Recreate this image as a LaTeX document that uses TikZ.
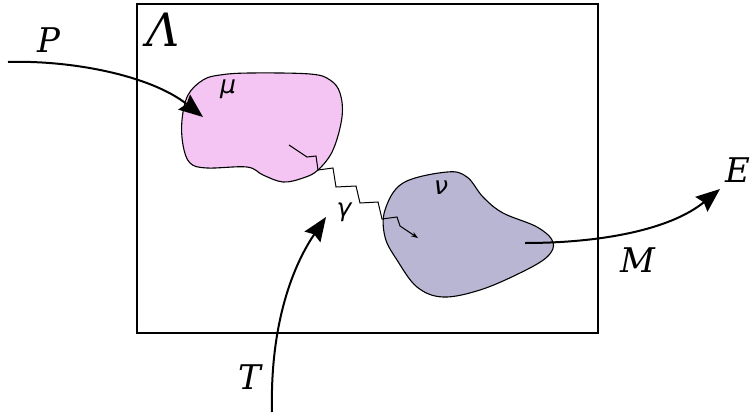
\documentclass[tikz,border=0pt]{standalone}
\usepackage{fontspec}
\setmainfont{DejaVu Serif}
\setsansfont{DejaVu Sans}
\usepackage{tikz}
\usetikzlibrary{positioning,calc}
\usetikzlibrary{arrows.meta}
\definecolor{BlobPink}{RGB}{244,196,242}
\definecolor{BlobLilac}{RGB}{184,182,211}
\tikzset{
	region/.style={draw=black,line width=1.1pt},
	flow/.style={draw=black,line width=2pt,-{Stealth[length=24pt,width=19pt,inset=3pt]}},
	photon/.style={draw=black,line width=1pt,line join=miter},
	lbl/.style={inner sep=0pt,font=\itshape\fontsize{34}{34}\selectfont},
	glbl/.style={inner sep=0pt,font=\sffamily\slshape\fontsize{25}{25}\selectfont},
}
\begin{document}
\begin{tikzpicture}[x=1pt,y=-1pt]
			\useasboundingbox (0,0) rectangle (750,415);
			% box
			\draw[line width=2pt] (137,4) rectangle (598,333);
			\node[lbl,font=\itshape\fontsize{46}{46}\selectfont] (lam) at (163,30) {Λ};
			% the two regions
			\draw[region,fill=BlobPink] plot[smooth cycle,tension=0.6] coordinates {
				(220,75) (250,73) (310,74) (330,80) (340,93) (342,117) (333,150) (318,170)
				(303,178) (283,182) (263,175) (247,167) (207,168) (190,163) (183,145)
				(182,120) (188,95) (203,80)};
			\draw[region,fill=BlobLilac] plot[smooth cycle,tension=0.6] coordinates {
				(447,172) (467,177) (483,197) (503,213) (537,227) (553,242) (547,257)
				(520,273) (480,290) (443,297) (417,287) (397,260) (385,237) (385,210)
				(403,183)};
			\node[glbl] (mu) at (228,89) {μ};
			\node[glbl] (nu) at (441,188) {ν};
			\node[glbl] (gam) at (344,212) {γ};
			% photon between regions
			\coordinate (gin) at (289,145);
			\coordinate (gout) at (418,238);
			\draw[photon,-{Stealth[length=7pt,width=5pt]}] (gin) -- (307,157) -- (316,156) -- (318,170)
				-- (333,168) -- (336,187) -- (356,186) -- (360,203) -- (378,202) -- (382,219)
				-- (397,217) -- (400,226) -- (gout);
			% incoming and outgoing flows
			\coordinate (Pin) at (8,62);
			\coordinate (Pout) at (203,117);
			\coordinate (Tin) at (272,412);
			\coordinate (Tout) at (326,217);
			\coordinate (Min) at (525,243);
			\coordinate (Mout) at (720,189);
			\draw[flow] (Pin) .. controls (70,60) and (150,75) .. (Pout);
			\draw[flow] (Tin) .. controls (270,330) and (290,270) .. (Tout);
			\draw[flow] (Min) .. controls (600,243) and (670,230) .. (Mout);
			\node[lbl] (p) at (49,40) {P};
			\node[lbl] (t) at (250,377) {T};
			\node[lbl] (m) at (638,260) {M};
			\node[lbl] (e) at (738,170) {E};
		\end{tikzpicture}
\end{document}
